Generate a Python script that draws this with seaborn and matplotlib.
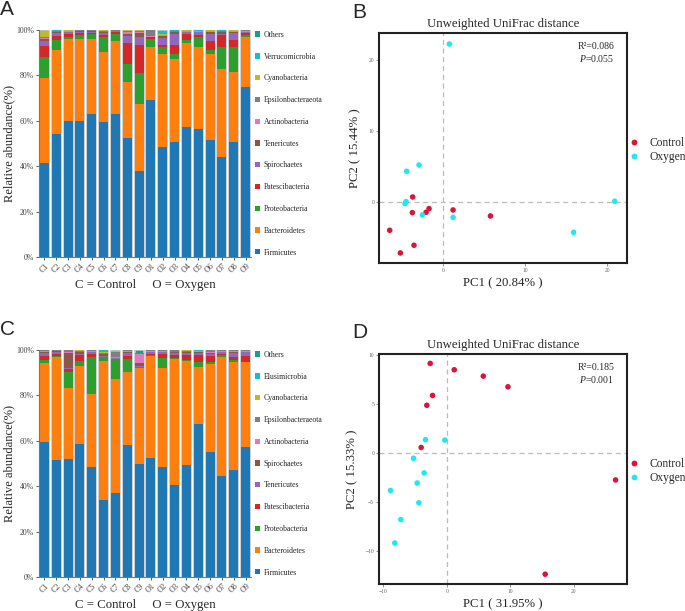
import numpy as np
import pandas as pd
import matplotlib
matplotlib.use("Agg")
import matplotlib.pyplot as plt
from matplotlib.patches import Patch
from matplotlib.lines import Line2D
import seaborn as sns

# ---------------- data ----------------
samples = ["C1", "C2", "C3", "C4", "C5", "C6", "C7", "C8", "C9",
           "O1", "O2", "O3", "O4", "O5", "O6", "O7", "O8", "O9"]

# Panel A taxa (stack order bottom -> top)
taxa_A = ["Firmicutes", "Bacteroidetes", "Proteobacteria", "Patescibacteria",
          "Spirochaetes", "Tenericutes", "Actinobacteria", "Epsilonbacteraeota",
          "Cyanobacteria", "Verrucomicrobia", "Others"]
A_firmicutes = [41.2, 54.4, 59.9, 60.1, 62.9, 59.6, 62.9, 52.6, 38.1, 69.1, 48.5, 50.9, 57.2, 56.6, 51.5, 44.1, 50.7, 75.0]
A_bacteroidetes = [37.8, 36.8, 36.4, 35.9, 33.4, 30.7, 32.2, 24.6, 29.1, 23.5, 40.8, 36.2, 37.2, 35.8, 37.8, 38.7, 30.6, 22.1]
A_proteobacteria = [8.9, 4.4, 0.9, 1.8, 1.9, 6.4, 3.4, 7.8, 13.7, 3.3, 3.1, 2.6, 1.2, 4.4, 1.9, 9.6, 11.3, 0.5]
A_patescibacteria = [5.0, 1.9, 1.2, 1.1, 0.6, 1.0, 0.8, 9.4, 12.5, 0.8, 0.6, 3.7, 2.5, 1.1, 4.1, 5.2, 3.0, 0.9]
A_spirochaetes = [2.1, 1.0, 0.6, 0.4, 0.5, 0.8, 0.2, 3.0, 3.4, 0.2, 3.3, 5.1, 0.8, 1.0, 2.9, 0.8, 2.9, 0.5]
A_tenericutes = [1.0, 0.5, 0.3, 0.3, 0.2, 0.5, 0.2, 1.0, 2.0, 0.1, 0.8, 0.6, 0.3, 0.3, 0.9, 0.6, 0.5, 0.3]
A_actinobacteria = [0.3, 0.3, 0.3, 0.2, 0.3, 0.3, 0.1, 0.6, 0.5, 0.3, 0.4, 0.3, 0.2, 0.2, 0.3, 0.3, 0.4, 0.2]
A_epsilon = [0.8, 0.3, 0.2, 0.1, 0.1, 0.4, 0.1, 0.7, 0.4, 2.6, 0.3, 0.3, 0.1, 0.2, 0.3, 0.3, 0.3, 0.3]
A_cyanobacteria = [2.5, 0.1, 0.1, 0.1, 0.1, 0.1, 0.1, 0.1, 0.1, 0.0, 0.1, 0.1, 0.4, 0.1, 0.1, 0.1, 0.1, 0.1]
A_verrucomicrobia = [0.1, 0.1, 0.1, 0.0, 0.0, 0.1, 0.0, 0.1, 0.0, 0.0, 1.5, 0.1, 0.0, 0.1, 0.1, 0.1, 0.1, 0.0]
A_others = [0.3, 0.2, 0.1, 0.1, 0.1, 0.1, 0.1, 0.1, 0.2, 0.1, 0.4, 0.2, 0.1, 0.2, 0.1, 0.2, 0.1, 0.1]

# Panel C taxa (stack order bottom -> top)
taxa_C = ["Firmicutes", "Bacteroidetes", "Proteobacteria", "Patescibacteria",
          "Tenericutes", "Spirochaetes", "Actinobacteria", "Epsilonbacteraeota",
          "Cyanobacteria", "Elusimicrobia", "Others"]
C_firmicutes = [59.3, 51.5, 51.9, 58.8, 48.4, 34.3, 37.2, 57.9, 49.9, 52.5, 48.4, 40.4, 49.4, 67.2, 55.1, 44.4, 47.1, 57.2]
C_bacteroidetes = [34.8, 45.3, 30.9, 34.3, 32.2, 61.3, 50.3, 32.5, 42.3, 44.6, 43.8, 55.6, 45.5, 25.4, 38.3, 52.2, 47.5, 37.4]
C_proteobacteria = [1.5, 0.7, 7.2, 2.2, 16.5, 1.7, 8.8, 5.5, 0.4, 0.4, 4.4, 0.4, 0.6, 2.2, 1.0, 0.9, 0.7, 0.3]
C_patescibacteria = [1.8, 1.0, 1.2, 2.5, 1.0, 0.3, 0.3, 1.5, 0.2, 0.5, 1.5, 1.0, 2.0, 3.0, 2.8, 0.7, 1.3, 2.6]
C_tenericutes = [1.4, 0.8, 0.7, 0.7, 1.0, 0.4, 0.2, 1.0, 0.2, 0.8, 0.8, 1.0, 1.0, 1.0, 0.8, 0.8, 2.0, 1.4]
C_spirochaetes = [0.4, 0.2, 6.3, 0.5, 0.2, 0.6, 0.3, 0.6, 1.3, 0.3, 0.3, 0.5, 0.4, 0.3, 0.4, 0.2, 0.4, 0.3]
C_actinobacteria = [0.2, 0.2, 0.5, 0.2, 0.2, 0.2, 0.2, 0.3, 4.1, 0.2, 0.2, 0.2, 0.2, 0.3, 0.6, 0.2, 0.3, 0.2]
C_epsilon = [0.4, 0.2, 0.7, 0.3, 0.3, 0.3, 2.5, 0.4, 0.3, 0.4, 0.4, 0.5, 0.3, 0.2, 0.5, 0.3, 0.4, 0.4]
C_cyanobacteria = [0.1, 0.1, 0.1, 0.5, 0.1, 0.3, 0.1, 0.1, 0.1, 0.1, 0.1, 0.1, 0.4, 0.1, 0.1, 0.1, 0.1, 0.1]
C_elusimicrobia = [0.0, 0.0, 0.0, 0.0, 0.0, 1.0, 0.1, 0.0, 0.0, 0.0, 0.0, 0.0, 0.0, 0.2, 0.0, 0.0, 0.0, 0.0]
C_others = [0.1, 0.1, 0.1, 0.1, 0.1, 0.1, 0.5, 0.1, 1.3, 0.1, 0.1, 0.1, 0.1, 0.1, 0.1, 0.1, 0.1, 0.1]

# PCoA panel B
B_control_pc1 = [-3.70, -3.74, -2.07, -1.71, 1.22, 5.77, -6.50, -3.54, -5.20]
B_control_pc2 = [0.70, -1.50, -1.46, -0.94, -1.13, -1.97, -3.99, -6.10, -7.18]
B_oxygen_pc1 = [0.77, -2.93, -4.43, -4.51, -4.63, -2.52, 1.22, 15.9, 20.9]
B_oxygen_pc2 = [22.25, 5.21, 4.32, 0.05, -0.23, -1.83, -2.16, -4.27, 0.10]

# PCoA panel D
D_control_pc1 = [-2.63, 1.16, 5.74, 9.63, -2.26, -3.16, -4.05, 26.6, 15.5]
D_control_pc2 = [9.14, 8.49, 7.84, 6.75, 5.86, 4.86, 0.55, -2.77, -12.4]
D_oxygen_pc1 = [-3.37, -0.32, -5.26, -3.58, -4.68, -8.89, -4.42, -7.26, -8.21]
D_oxygen_pc2 = [1.34, 1.30, -0.55, -2.05, -3.08, -3.84, -5.10, -6.82, -9.21]

pct_ticks = ["0%", "20%", "40%", "60%", "80%", "100%"]

# ---------------- style ----------------
sns.set_theme(style="white")
SERIF = ["Liberation Serif", "DejaVu Serif"]
plt.rcParams["font.family"] = SERIF
plt.rcParams["mathtext.fontset"] = "custom"
plt.rcParams["mathtext.rm"] = "Liberation Serif"
plt.rcParams["mathtext.it"] = "Liberation Serif:italic"

taxa_colors = ["#1f77b4", "#ff7f0e", "#2ca02c", "#d62728", "#9467bd", "#8c564b",
               "#e377c2", "#7f7f7f", "#bcbd22", "#17becf", "#17a085"]
group_colors = {"Control": "#e0123c", "Oxygen": "#1ee8f2"}

fig = plt.figure(figsize=(6.85, 6.11), dpi=100)
W, H = 685.0, 611.0


def axes_px(left, top, right, bottom):
    return fig.add_axes([left / W, 1 - bottom / H, (right - left) / W, (bottom - top) / H])


def stacked(ax, taxa, series):
    df = pd.DataFrame(np.array(series).T, columns=taxa)
    df = df.div(df.sum(axis=1), axis=0) * 100.0
    cum = df.cumsum(axis=1)
    cum["sample"] = samples
    for i in range(len(taxa) - 1, -1, -1):
        sns.barplot(data=cum, x="sample", y=taxa[i], order=samples, color=taxa_colors[i],
                    width=0.76, ax=ax, saturation=1,
                    edgecolor="#c8c8c8" if i == len(taxa) - 1 else "none",
                    linewidth=1.2 if i == len(taxa) - 1 else 0)
    ax.set_xlim(-0.45, len(samples) - 0.55)
    ax.set_ylim(0, 100)
    ax.set_yticks([0, 20, 40, 60, 80, 100])
    ax.set_yticklabels(pct_ticks, fontsize=5.6)
    ax.set_xticks(range(len(samples)))
    ax.set_xticklabels(samples, rotation=45, fontsize=5.8, ha="center")
    ax.tick_params(axis="both", which="both", length=2, width=0.6, colors="#444444", pad=1.5)
    ax.tick_params(axis="y", left=True)
    ax.tick_params(axis="x", bottom=True)
    for s in ["top", "right"]:
        ax.spines[s].set_visible(False)
    for s in ["left", "bottom"]:
        ax.spines[s].set_color("#777777")
        ax.spines[s].set_linewidth(0.8)
    ax.set_ylabel("Relative abundance(%)", fontsize=9.0, labelpad=1)
    ax.set_xlabel("C = Control     O = Oxygen", fontsize=9.2, labelpad=3)
    handles = [Patch(facecolor=taxa_colors[i], edgecolor="none", label=taxa[i])
               for i in range(len(taxa) - 1, -1, -1)]
    ax.legend(handles=handles, loc="upper left", bbox_to_anchor=(1.012, 1.003), frameon=False,
              fontsize=5.6, handlelength=0.68, handleheight=0.68, handletextpad=0.45,
              labelspacing=1.77, borderaxespad=0.0, borderpad=0.2)


def pcoa(ax, cx, cy, ox, oy, xlim, ylim, xticks, yticks, xlab, ylab, r2, p):
    df = pd.DataFrame({
        "PC1": list(cx) + list(ox),
        "PC2": list(cy) + list(oy),
        "Group": ["Control"] * len(cx) + ["Oxygen"] * len(ox),
    })
    ax.axvline(0, color="#bbbbbb", ls=(0, (4, 3)), lw=0.9, zorder=0)
    ax.axhline(0, color="#bbbbbb", ls=(0, (4, 3)), lw=0.9, zorder=0)
    sns.scatterplot(data=df, x="PC1", y="PC2", hue="Group", palette=group_colors,
                    s=16, linewidth=0, ax=ax, legend=False, zorder=3)
    ax.set_xlim(*xlim)
    ax.set_ylim(*ylim)
    ax.set_xticks(xticks)
    ax.set_yticks(yticks)
    ax.tick_params(axis="both", length=2, width=0.5, labelsize=4.0, colors="#666666", pad=1.5,
                   bottom=True, left=True)
    for s in ax.spines.values():
        s.set_visible(True)
        s.set_color("#222222")
        s.set_linewidth(1.5)
    ax.set_xlabel(xlab, fontsize=9.2, labelpad=3)
    ax.set_ylabel(ylab, fontsize=9.2, labelpad=5)
    ax.set_title("Unweighted UniFrac distance", fontsize=9.2, pad=4)
    ax.text(0.948, 0.94, "R\u00b2=" + r2, transform=ax.transAxes, ha="right", va="center", fontsize=7)
    ax.text(0.948, 0.887, r"$\it{P}$=" + p, transform=ax.transAxes, ha="right", va="center", fontsize=7)
    handles = [Line2D([], [], marker="o", ls="none", markersize=4.2, markerfacecolor=group_colors[g],
                      markeredgewidth=0, label=g) for g in ["Control", "Oxygen"]]
    ax.legend(handles=handles, loc="center left", bbox_to_anchor=(1.0, 0.49), frameon=False,
              fontsize=8.3, handletextpad=0.85, labelspacing=0.15, borderaxespad=0.0,
              borderpad=0.2, handlelength=0.9)


axA = axes_px(39, 30, 251, 257)
stacked(axA, taxa_A, [A_firmicutes, A_bacteroidetes, A_proteobacteria, A_patescibacteria,
                      A_spirochaetes, A_tenericutes, A_actinobacteria, A_epsilon,
                      A_cyanobacteria, A_verrucomicrobia, A_others])

axC = axes_px(39, 350, 251, 577)
stacked(axC, taxa_C, [C_firmicutes, C_bacteroidetes, C_proteobacteria, C_patescibacteria,
                      C_tenericutes, C_spirochaetes, C_actinobacteria, C_epsilon,
                      C_cyanobacteria, C_elusimicrobia, C_others])

axB = axes_px(379, 33, 627, 263)
pcoa(axB, B_control_pc1, B_control_pc2, B_oxygen_pc1, B_oxygen_pc2,
     (-7.8, 22.4), (-8.6, 23.8), [0, 10, 20], [0, 10, 20],
     "PC1 ( 20.84% )", "PC2 ( 15.44% )", "0.086", "0.055")

axD = axes_px(379, 354, 627, 584)
pcoa(axD, D_control_pc1, D_control_pc2, D_oxygen_pc1, D_oxygen_pc2,
     (-10.7, 28.4), (-13.4, 10.1), [-10, 0, 10, 20], [-10, -5, 0, 5, 10],
     "PC1 ( 31.95% )", "PC2 ( 15.33% )", "0.185", "0.001")

for lab, x, y in [("A", 0, 0), ("B", 352, 3), ("C", 0, 320), ("D", 352, 323)]:
    fig.text(x / W, 1 - y / H, lab, fontsize=15, family=["Liberation Sans", "DejaVu Sans"],
             ha="left", va="top")

fig.savefig("out.png", dpi=100)
